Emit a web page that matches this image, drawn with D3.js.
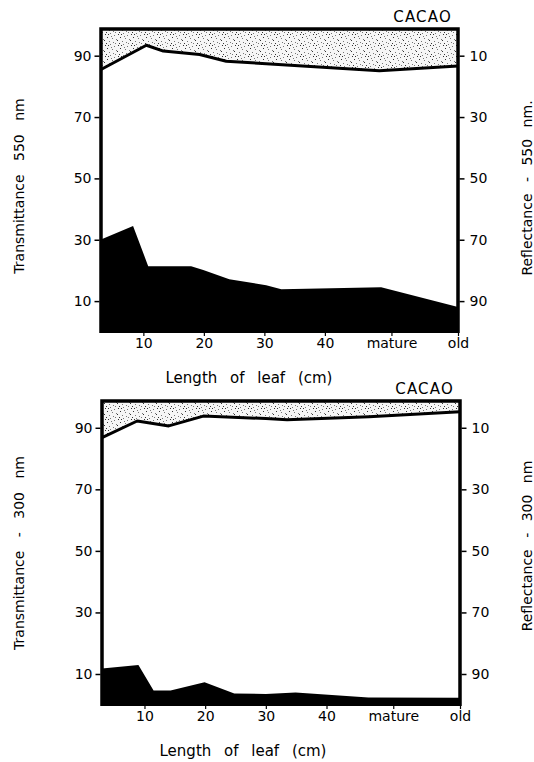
<!DOCTYPE html>
<meta charset="utf-8">
<script src="https://d3js.org/d3.v7.min.js"></script>
<style>
  body { margin: 0; background: #fff; }
  text { font-family: "DejaVu Sans", sans-serif; fill: #000; }
</style>
<div id="my_dataviz"></div>
<script>

// x ticks: leaf length in cm, then "mature" and "old" at the right end
const xTickVals = [10, 20, 30, 40, 51, 62];
const xTickLabels = ["10", "20", "30", "40", "mature", "old"];
const leftTicks = [10, 30, 50, 70, 90];    // transmittance
const rightTicks = [10, 30, 50, 70, 90];   // reflectance

// 550 nm panel
const topUpperCm = [3, 10.5, 13.3, 19.3, 23.7, 30.3, 49, 62];
const topUpperT  = [85.5, 93.4, 91.5, 90.4, 88.2, 87.4, 85.1, 86.6];
const topLowerCm = [3, 8.3, 10.8, 17.9, 19.9, 24.2, 30.3, 32.8, 49.3, 62];
const topLowerT  = [30.1, 34.5, 21.4, 21.4, 20.1, 17.1, 15.2, 13.9, 14.5, 8.1];

// 300 nm panel
const botUpperCm = [3, 8.8, 14, 19.7, 30, 33.5, 47, 62];
const botUpperT  = [86.8, 92.2, 90.6, 93.8, 93.0, 92.6, 93.6, 95.2];
const botLowerCm = [3, 9.0, 11.5, 14.3, 19.9, 24.8, 30, 34.9, 46.9, 62];
const botLowerT  = [11.8, 12.9, 4.6, 4.6, 7.3, 3.7, 3.5, 4.0, 2.4, 2.3];

const svg = d3.select("#my_dataviz")
  .append("svg")
    .attr("width", 534)
    .attr("height", 762);

// stipple texture for the reflectance band (fixed dot layout)
const pat = svg.append("defs").append("pattern")
    .attr("id", "stipple")
    .attr("patternUnits", "userSpaceOnUse")
    .attr("width", 13).attr("height", 11);
pat.append("rect").attr("width", 13).attr("height", 11).attr("fill", "#f6f6f6");
[[1,1],[6,0],[10,2],[3,4],[8,5],[12,6],[0,7],[5,8],[9,9],[2,10],[7,3],[11,10],[4,1]]
  .forEach(function(p, i) {
    pat.append("rect").attr("x", p[0]).attr("y", p[1])
      .attr("width", 1).attr("height", 1)
      .attr("fill", i % 3 ? "#777" : "#333");
  });

function drawPanel(o) {
  const g = svg.append("g");
  const x = d3.scaleLinear().domain([3, 62]).range([o.left, o.right]);
  const y = d3.scaleLinear().domain([-0.4, 98.7]).range([o.bottom, o.top]);
  const yr = d3.scaleLinear().domain([100.4, 1.3]).range([o.bottom, o.top]);

  const upper = o.upperCm.map((c, i) => [c, o.upperT[i]]);
  const lower = o.lowerCm.map((c, i) => [c, o.lowerT[i]]);

  // stippled band between frame top and upper line
  g.append("path")
    .datum(upper)
    .attr("d", d3.area().x(d => x(d[0])).y0(o.top).y1(d => y(d[1])))
    .attr("fill", "url(#stipple)");

  // black area under lower line
  g.append("path")
    .datum(lower)
    .attr("d", d3.area().x(d => x(d[0])).y0(o.bottom).y1(d => y(d[1])))
    .attr("fill", "#000");

  // upper line
  g.append("path")
    .datum(upper)
    .attr("d", d3.line().x(d => x(d[0])).y(d => y(d[1])))
    .attr("fill", "none")
    .attr("stroke", "#000")
    .attr("stroke-width", 3)
    .attr("stroke-linejoin", "round");

  // frame: left, top, right
  g.append("path")
    .attr("d", `M${o.left},${o.bottom} V${o.top} H${o.right} V${o.bottom}`)
    .attr("fill", "none")
    .attr("stroke", "#000")
    .attr("stroke-width", 3.5);

  // left axis
  const la = g.append("g")
    .attr("transform", `translate(${o.left - 1.5},0)`)
    .call(d3.axisLeft(y).tickValues(leftTicks).tickSize(5).tickPadding(3));
  la.select(".domain").remove();
  la.selectAll("line").attr("stroke-width", 1.5);
  la.selectAll("text").style("font-size", "14px");

  // right axis
  const ra = g.append("g")
    .attr("transform", `translate(${o.right + 1.5},0)`)
    .call(d3.axisRight(yr).tickValues(rightTicks).tickSize(5).tickPadding(5));
  ra.select(".domain").remove();
  ra.selectAll("line").attr("stroke-width", 1.5);
  ra.selectAll("text").style("font-size", "14px");

  // bottom axis
  const ba = g.append("g")
    .attr("transform", `translate(0,${o.bottom})`)
    .call(d3.axisBottom(x).tickValues(xTickVals)
      .tickFormat((d, i) => xTickLabels[i]).tickSize(3).tickPadding(2));
  ba.select(".domain").remove();
  ba.selectAll("line").attr("stroke-width", 1.2);
  ba.selectAll("text").style("font-size", "14px");

  g.append("text")
    .attr("x", o.right - 6).attr("y", o.top - 7)
    .attr("text-anchor", "end")
    .style("font-size", "15px")
    .style("letter-spacing", "1.2px")
    .text("CACAO");

  g.append("text")
    .attr("x", o.xLabelX).attr("y", o.bottom + 50)
    .attr("text-anchor", "middle")
    .style("font-size", "15px")
    .style("word-spacing", "8px")
    .text("Length of leaf (cm)");

  g.append("text")
    .attr("transform", `translate(24,${o.leftMid}) rotate(-90)`)
    .attr("text-anchor", "middle")
    .style("font-size", "14px")
    .style("word-spacing", "9px")
    .text(o.leftLabel);

  g.append("text")
    .attr("transform", `translate(532,${o.rightMid}) rotate(-90)`)
    .attr("text-anchor", "middle")
    .style("font-size", "14px")
    .style("word-spacing", "7px")
    .text(o.rightLabel);
}

drawPanel({
  left: 101, right: 458, top: 29, bottom: 333,
  upperCm: topUpperCm, upperT: topUpperT,
  lowerCm: topLowerCm, lowerT: topLowerT,
  xLabelX: 249, leftMid: 186, rightMid: 188,
  leftLabel: "Transmittance 550 nm",
  rightLabel: "Reflectance - 550 nm."
});

drawPanel({
  left: 102, right: 460, top: 401, bottom: 706,
  upperCm: botUpperCm, upperT: botUpperT,
  lowerCm: botLowerCm, lowerT: botLowerT,
  xLabelX: 243, leftMid: 553, rightMid: 546,
  leftLabel: "Transmittance - 300 nm",
  rightLabel: "Reflectance - 300 nm"
});

</script>
